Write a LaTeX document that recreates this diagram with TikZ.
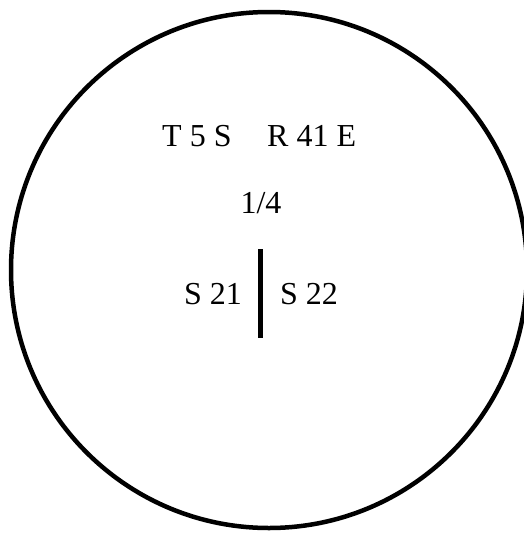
\documentclass[tikz,border=0pt]{standalone}
\usepackage{fontspec}
\setmainfont{Liberation Serif}

\begin{document}
\begin{tikzpicture}[x=1pt, y=-1pt,
    every node/.style={font=\fontsize{32}{38}\selectfont, inner sep=0pt}]

  % Frame of the picture, 524 x 533 px
  \useasboundingbox (0,0) rectangle (524,533);

  % Outer circle (runs a little past the right edge)
  \begin{scope}
    \clip (0,0) rectangle (524,533);
    \draw[line width=4.5pt] (269,270) circle[radius=258pt];
  \end{scope}

  % Township and range
  \node[anchor=base west] (township) at (162,146) {T 5 S};
  \node[anchor=base west] (range) at (267,146) {R 41 E};

  % Quarter
  \node[anchor=base] (quarter) at (261,213) {1/4};

  % Sections either side of the divider
  \coordinate (divtop) at (260,249);
  \coordinate (divbot) at (260,338);
  \draw[line width=5pt] (divtop) -- (divbot);
  \node[anchor=base east] (secleft) at (242,304) {S 21};
  \node[anchor=base west] (secright) at (280,304) {S 22};

\end{tikzpicture}
\end{document}
